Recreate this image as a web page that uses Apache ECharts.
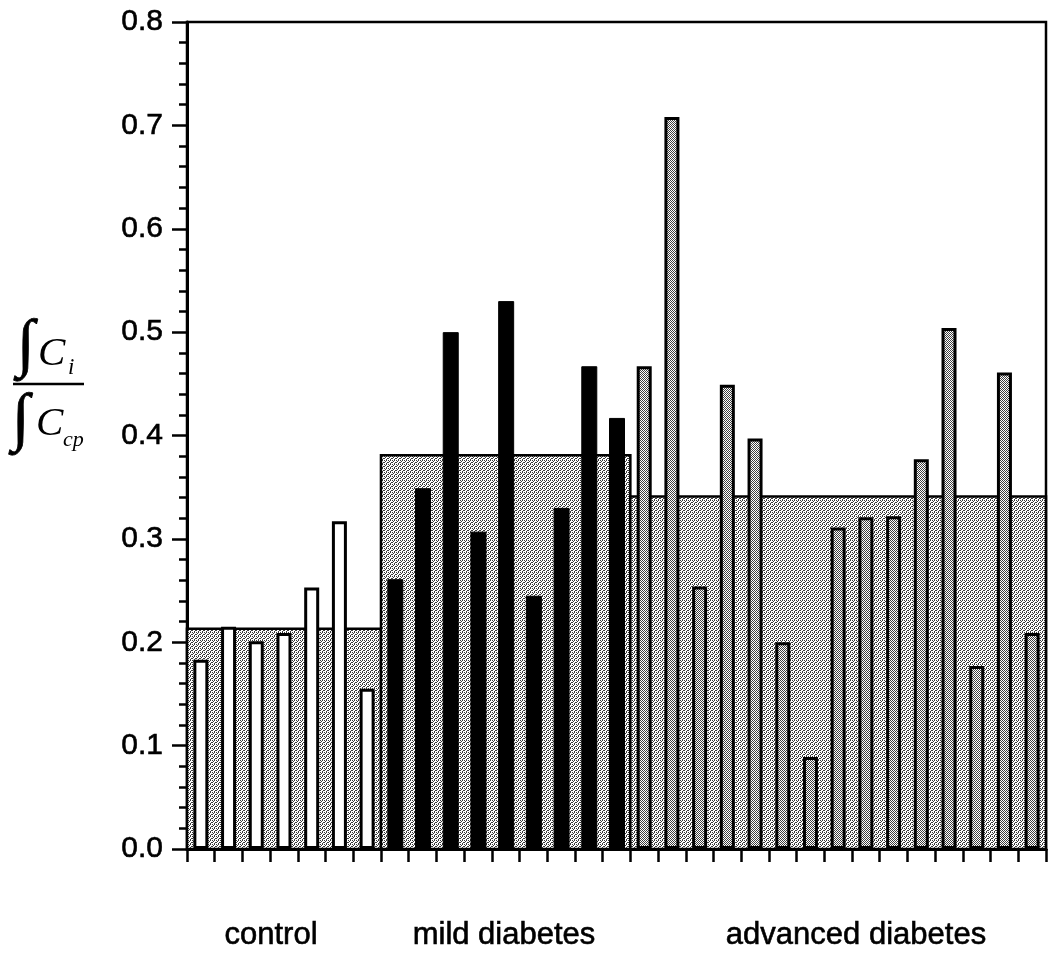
<!DOCTYPE html>
<html>
<head>
<meta charset="utf-8">
<script src="https://cdn.jsdelivr.net/npm/echarts@6/dist/echarts.min.js"></script>
<style>
  html, body { margin: 0; padding: 0; background: #fff; }
  #grafica { width: 1049px; height: 964px; }
</style>
</head>
<body>
<div id="grafica"></div>
<script>
// valores
var control = [0.183, 0.215, 0.201, 0.209, 0.253, 0.317, 0.155]
var mild = [0.261, 0.349, 0.500, 0.307, 0.530, 0.245, 0.330, 0.467, 0.417]
var advanced = [0.467, 0.708, 0.254, 0.449, 0.397, 0.200, 0.089, 0.311, 0.321, 0.322, 0.377, 0.504, 0.177, 0.461, 0.209]
var groupMeans = [0.213, 0.381, 0.341]
var groupNames = ['control', 'mild diabetes', 'advanced diabetes']
var yTicks = ['0.0', '0.1', '0.2', '0.3', '0.4', '0.5', '0.6', '0.7', '0.8']

var grupos = [control, mild, advanced]
var categorias = []
var rangos = []
grupos.forEach(function (g, k) {
    var inicio = categorias.length
    g.forEach(function (v, i) { categorias.push(k + '-' + i) })
    rangos.push([inicio, categorias.length - 1, groupMeans[k]])
})

function serieDe(k) {
    var out = []
    categorias.forEach(function () { out.push('-') })
    var inicio = rangos[k][0]
    grupos[k].forEach(function (v, i) { out[inicio + i] = v })
    return out
}

function patron(size, puntos, color) {
    var c = document.createElement('canvas')
    c.width = size
    c.height = size
    var ctx = c.getContext('2d')
    ctx.fillStyle = '#fff'
    ctx.fillRect(0, 0, size, size)
    ctx.fillStyle = color
    puntos.forEach(function (p) { ctx.fillRect(p[0], p[1], 1, 1) })
    return c
}
var fondoPunteado = { image: patron(4, [[0, 0], [2, 0], [1, 1], [3, 2], [0, 2], [2, 3]], '#3a3a3a'), repeat: 'repeat' }
var barraPunteada = { image: patron(2, [[0, 0], [1, 1]], '#3f3f3f'), repeat: 'repeat' }

var myChart = echarts.init(document.getElementById('grafica'))

var trazo = { textBorderColor: '#000', textBorderWidth: 0.6 }
var formula = [
    { type: 'text', x: 17, y: 347, style: { text: '\u222B', font: '64px "Liberation Serif"', fill: '#000', stroke: '#000', lineWidth: 0.8, verticalAlign: 'middle' } },
    { type: 'text', x: 38, y: 354, style: { text: 'C', font: 'italic 41px "Liberation Serif"', fill: '#000', verticalAlign: 'middle' } },
    { type: 'text', x: 68, y: 368, style: { text: 'i', font: 'italic 23px "Liberation Serif"', fill: '#000', verticalAlign: 'middle' } },
    { type: 'line', shape: { x1: 13, y1: 384, x2: 84, y2: 384 }, style: { stroke: '#000', lineWidth: 2.5 } },
    { type: 'text', x: 12, y: 421, style: { text: '\u222B', font: '64px "Liberation Serif"', fill: '#000', stroke: '#000', lineWidth: 0.8, verticalAlign: 'middle' } },
    { type: 'text', x: 36, y: 424, style: { text: 'C', font: 'italic 41px "Liberation Serif"', fill: '#000', verticalAlign: 'middle' } },
    { type: 'text', x: 63, y: 440, style: { text: 'cp', font: 'italic 22px "Liberation Serif"', fill: '#000', verticalAlign: 'middle' } }
]
var etiquetasX = [271, 504, 856]
groupNames.forEach(function (n, k) {
    formula.push({ type: 'text', x: etiquetasX[k], y: 935, style: { text: n, font: '31px "Liberation Sans"', fill: '#000', stroke: '#000', lineWidth: 0.6, align: 'center', verticalAlign: 'middle' } })
})

option = {
    animation: false,
    grid: { left: 187, right: 3, top: 22, bottom: 115, show: true, borderColor: '#000', borderWidth: 2.5 },
    xAxis: {
        type: 'category',
        data: categorias,
        boundaryGap: true,
        axisLine: { show: true, lineStyle: { color: '#000', width: 3 } },
        axisTick: { show: true, alignWithLabel: false, length: 13, interval: 0, lineStyle: { color: '#000', width: 2.5 } },
        axisLabel: { show: true, interval: 0, formatter: function () { return '' } },
        splitLine: { show: false }
    },
    yAxis: {
        type: 'value',
        min: 0,
        max: 0.8,
        interval: 0.1,
        axisLine: { show: true, lineStyle: { color: '#000', width: 3 } },
        axisTick: { show: true, length: 15, lineStyle: { color: '#000', width: 2.5 } },
        minorTick: { show: true, splitNumber: 5, length: 8, lineStyle: { color: '#000', width: 2.5 } },
        axisLabel: {
            margin: 24, fontSize: 30, fontFamily: 'Liberation Sans', color: '#000',
            textBorderColor: trazo.textBorderColor, textBorderWidth: trazo.textBorderWidth,
            formatter: function (v) { return yTicks[Math.round(v * 10)] }
        },
        splitLine: { show: false }
    },
    graphic: formula,
    series: [
        {
            type: 'custom',
            z: 1,
            data: rangos,
            encode: { x: [0, 1], y: 2 },
            renderItem: function (params, api) {
                var p0 = api.coord([api.value(0), api.value(2)])
                var p1 = api.coord([api.value(1), 0])
                var bw = api.size([1, 0])[0]
                return {
                    type: 'rect',
                    shape: { x: p0[0] - bw / 2, y: p0[1], width: p1[0] - p0[0] + bw, height: p1[1] - p0[1] },
                    style: { fill: fondoPunteado, stroke: '#000', lineWidth: 2.5 }
                }
            }
        },
        {
            type: 'bar', z: 3, barWidth: 15, barGap: '-100%',
            data: serieDe(0),
            itemStyle: { color: '#fff', borderColor: '#000', borderWidth: 3 }
        },
        {
            type: 'bar', z: 3, barWidth: 16, barGap: '-100%',
            data: serieDe(1),
            itemStyle: { color: '#000', borderColor: '#000', borderWidth: 1 }
        },
        {
            type: 'bar', z: 3, barWidth: 15, barGap: '-100%',
            data: serieDe(2),
            itemStyle: { color: barraPunteada, borderColor: '#000', borderWidth: 3 }
        }
    ]
}
myChart.setOption(option)
</script>
</body>
</html>
